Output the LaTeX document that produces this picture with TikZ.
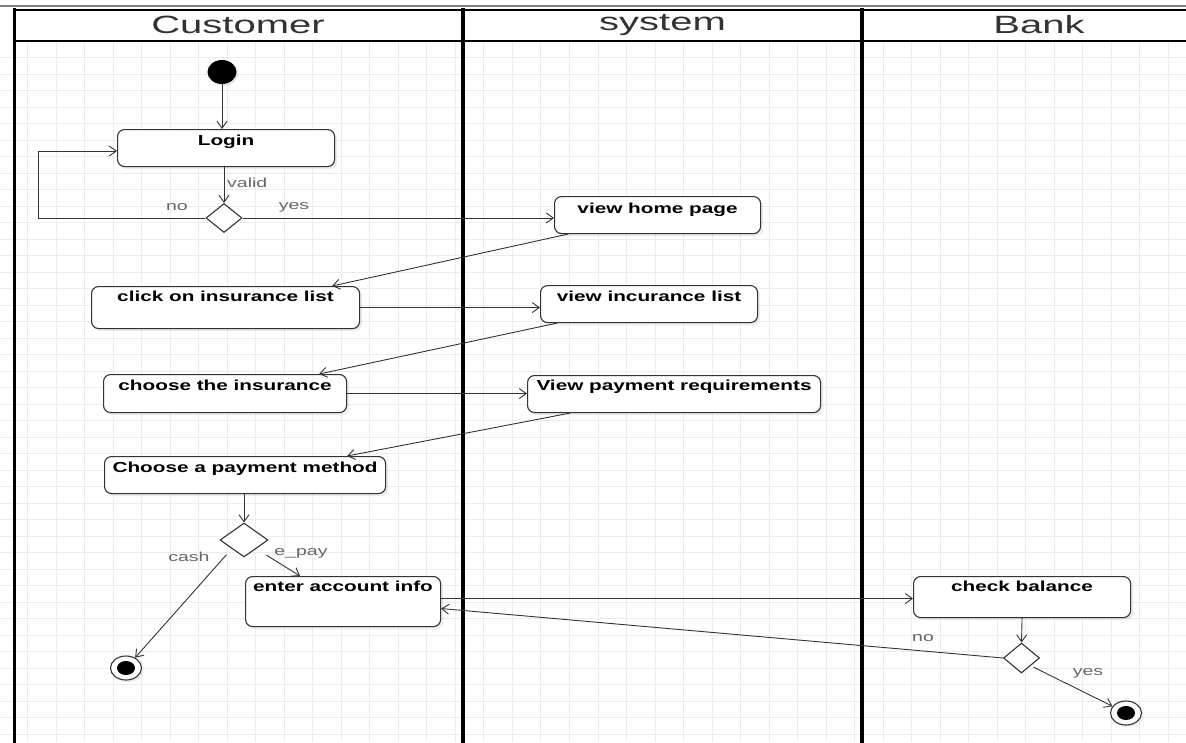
\documentclass[tikz,border=0pt]{standalone}
\usepackage{fontspec}
\setmainfont{Liberation Sans}
\usepackage{graphicx}
\usetikzlibrary{arrows.meta,shapes.geometric,shadows}
\definecolor{ink}{HTML}{333333}
\definecolor{lbl}{HTML}{666666}
\definecolor{gridc}{HTML}{ECECEC}
% horizontally widened text
\newcommand\wtxt[1]{\scalebox{1.43}[1]{#1}}
\newcommand\whead[1]{\scalebox{1.6}[1]{#1}}
\newcommand\wlbl[1]{\scalebox{1.5}[1]{#1}}

\begin{document}
\begin{tikzpicture}[x=1pt,y=-1pt,
  actbox/.style={draw=ink, line width=1.1pt, rounded corners=7pt, fill=white,
    anchor=north west, inner xsep=0pt, inner ysep=0pt, text=black,
    font=\bfseries\fontsize{14.5}{17}\selectfont,
    drop shadow={shadow xshift=2.5pt,shadow yshift=-2.5pt,opacity=0.15}},
  decision/.style={diamond, draw=ink, line width=1.1pt, fill=white, inner sep=0pt},
  startst/.style={ellipse, fill=black, inner sep=0pt, minimum width=29pt, minimum height=24pt,
    drop shadow={shadow xshift=2pt,shadow yshift=-2pt,opacity=0.15}},
  endst/.style={ellipse, draw=ink, line width=1.1pt, fill=white, inner sep=0pt,
    minimum width=31pt, minimum height=24pt,
    drop shadow={shadow xshift=2pt,shadow yshift=-2pt,opacity=0.15},
    path picture={\fill[black] (path picture bounding box.center) ellipse (9pt and 7pt);}},
  flow/.style={draw=ink, line width=0.9pt, -{Straight Barb[length=7pt,width=10pt]}},
  edgelbl/.style={text=lbl, font=\fontsize{13}{15}\selectfont, inner sep=0pt},
  lanehead/.style={text=ink, font=\fontsize{25}{28}\selectfont, inner sep=0pt},
  frame/.style={draw=black, line cap=rect}
]
\useasboundingbox (0,0) rectangle (1186,742);
\fill[white] (0,0) rectangle (1186,742);

% background grid
\foreach \k in {0,...,41} \draw[gridc, line width=0.8pt] ({-1+28.52*\k},41) -- ({-1+28.52*\k},742);
\foreach \k in {1,...,42} \draw[gridc, line width=0.8pt] (0,{41+16.5*\k}) -- (1186,{41+16.5*\k});

% swimlane frame
\fill[white] (14,9) rectangle (1186,41);
\draw[gray, line width=1.5pt] (0,6) -- (1186,6);
\draw[frame, line width=2pt] (14,9.5) -- (1186,9.5);
\draw[frame, line width=2pt] (14,41) -- (1186,41);
\draw[frame, line width=2.5pt] (14.5,9.5) -- (14.5,742);
\draw[frame, line width=3.5pt] (463,9.5) -- (463,742);
\draw[frame, line width=3.5pt] (862,9.5) -- (862,742);

\node[lanehead] (hcust) at (238,25) {\whead{Customer}};
\node[lanehead] (hsys) at (662.5,25) {\whead{system}};
\node[lanehead] (hbank) at (1039,25) {\whead{Bank}};

% activities
\node[startst] (start) at (222,72) {};
\node[actbox, minimum width=217pt, text height=16pt, text depth=21pt] (login) at (117,129) {\wtxt{Login}};
\node[decision, minimum width=36pt, minimum height=29pt] (d1) at (224,218) {};
\node[actbox, minimum width=206pt, text height=17pt, text depth=20pt] (home) at (554,196) {\wtxt{view home page}};
\node[actbox, minimum width=268pt, text height=15pt, text depth=27pt] (clicklist) at (91,286) {\wtxt{click on insurance list}};
\node[actbox, minimum width=217pt, text height=16pt, text depth=21pt] (viewlist) at (540,285) {\wtxt{view incurance list}};
\node[actbox, minimum width=243pt, text height=16pt, text depth=22pt] (choose) at (103,374) {\wtxt{choose the insurance}};
\node[actbox, minimum width=293pt, text height=15pt, text depth=22pt] (viewpay) at (527,375) {\wtxt{View payment requirements}};
\node[actbox, minimum width=281pt, text height=16pt, text depth=21pt] (paymethod) at (104,456) {\wtxt{Choose a payment method}};
\node[decision, minimum width=48pt, minimum height=34pt] (d2) at (244,540) {};
\node[actbox, minimum width=195pt, text height=15pt, text depth=35pt] (account) at (245,576) {\wtxt{enter account info}};
\node[actbox, minimum width=217pt, text height=15pt, text depth=26pt] (balance) at (913,576) {\wtxt{check balance}};
\node[decision, minimum width=36pt, minimum height=30pt] (d3) at (1021.5,658) {};
\node[endst] (final1) at (126,668) {};
\node[endst] (final2) at (1126,713) {};

% flows
\coordinate (loopc) at (38,151);
\draw[flow] (start) -- (start |- login.north);
\draw[flow] (login.south -| d1) -- (d1.north);
\draw[flow] (d1.west) -| (loopc) -- (loopc -| login.west);
\draw[flow] (d1.east) -- (d1.east -| home.west);
\draw[flow] ([xshift=14pt]home.south west) -- ([xshift=-28pt]clicklist.north east);
\draw[flow] (clicklist.east) -- (clicklist.east -| viewlist.west);
\draw[flow] ([xshift=17pt]viewlist.south west) -- ([xshift=-28pt]choose.north east);
\draw[flow] (choose.east) -- (choose.east -| viewpay.west);
\draw[flow] ([xshift=43pt]viewpay.south west) -- ([xshift=-39pt]paymethod.north east);
\draw[flow] (paymethod.south -| d2) -- (d2.north);
\draw[flow, shorten <=8pt] (d2.south west) -- (final1);
\draw[flow, shorten <=12pt] (d2.south east) -- ([xshift=55pt]account.north west);
\draw[flow] ([yshift=3pt]account.east) -- ([yshift=3pt]account.east -| balance.west);
\draw[flow] (balance.south) -- (d3.north);
\draw[flow] (d3.west) -- ([yshift=-7pt]account.east);
\draw[flow, shorten <=3pt] (d3.south east) -- (final2);

% guard labels
\node[edgelbl, anchor=west] (lvalid) at (227,183) {\wlbl{valid}};
\node[edgelbl] (lno1) at (177,207) {\wlbl{no}};
\node[edgelbl] (lyes1) at (294,207) {\wlbl{yes}};
\node[edgelbl] (lcash) at (189,557) {\wlbl{cash}};
\node[edgelbl] (lepay) at (301,553) {\wlbl{e\_pay}};
\node[edgelbl] (lno2) at (923,638) {\wlbl{no}};
\node[edgelbl] (lyes2) at (1088,673) {\wlbl{yes}};
\end{tikzpicture}
\end{document}
